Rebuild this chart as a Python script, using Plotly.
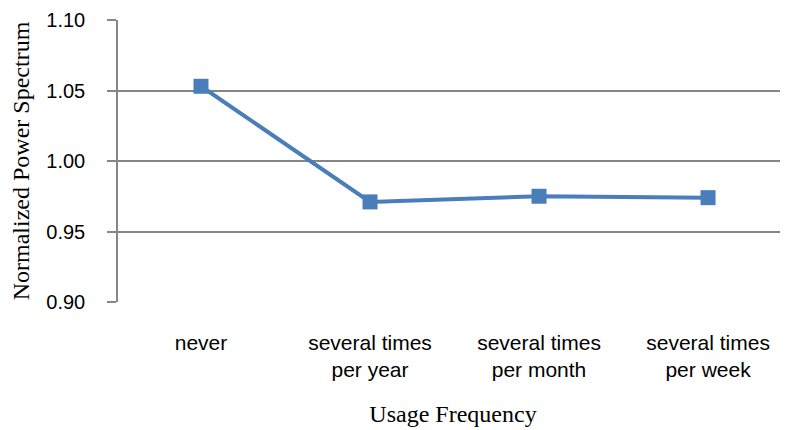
import plotly.graph_objects as go

categories = ["never", "several times<br>per year", "several times<br>per month", "several times<br>per week"]
values = [1.053, 0.971, 0.975, 0.974]
y_ticks = [0.90, 0.95, 1.00, 1.05, 1.10]
y_ticklabels = ["0.90", "0.95", "1.00", "1.05", "1.10"]

x_idx = list(range(len(categories)))

fig = go.Figure()
fig.add_trace(go.Scatter(
    x=x_idx, y=values, mode="lines+markers",
    line=dict(color="#4a7ebb", width=4),
    marker=dict(symbol="square", size=15, color="#4a7ebb"),
    showlegend=False, cliponaxis=False,
))

grid = "#868686"
# page body adds an 8px offset, so the figure is sized 780x422
fig.update_layout(
    width=780, height=422,
    margin=dict(l=110, r=0, t=12, b=128),
    paper_bgcolor="white", plot_bgcolor="white",
    font=dict(family="Liberation Sans", size=21, color="black"),
    xaxis=dict(
        range=[-0.491, 3.473], tickmode="array", tickvals=x_idx, ticktext=categories,
        showgrid=False, zeroline=False, showline=False, ticks="",
        ticklabelstandoff=26, automargin=False,
        title=dict(text="Usage Frequency", font=dict(family="Liberation Serif", size=24), standoff=24),
    ),
    yaxis=dict(
        range=[0.90, 1.10], tickmode="array", tickvals=y_ticks, ticktext=y_ticklabels,
        showgrid=True, gridcolor=grid, gridwidth=1.5, zeroline=False,
        showline=True, linecolor=grid, linewidth=1.5,
        ticks="outside", ticklen=9, tickcolor=grid, tickwidth=1.5,
        tickfont=dict(size=20),
        ticklabelstandoff=18, automargin=False, ticklabeloverflow="allow",
        title=dict(text="Normalized Power Spectrum", font=dict(family="Liberation Serif", size=24), standoff=16),
    ),
)
fig.write_html("out.html")
